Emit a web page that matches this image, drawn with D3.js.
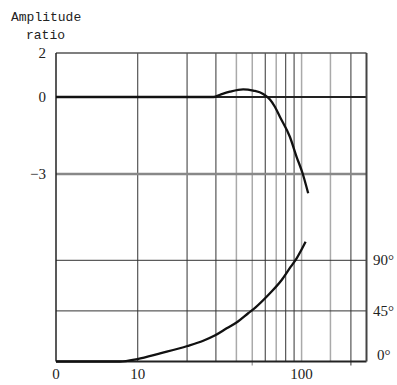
<!DOCTYPE html>
<html>
<head>
<meta charset="utf-8">
<script src="https://cdn.jsdelivr.net/npm/d3@7"></script>
<style>
  body { margin: 0; background: #fff; }
  text { fill: #222; }
</style>
</head>
<body>
<script>
// frequency grid (log axis)
var xMin = 3.17, xMax = 249;
var gridFreqs = [10, 20, 30, 40, 50, 60, 70, 80, 90, 100, 150, 200];
var xTickValues = [xMin, 10, 100];
var xTickLabels = ["0", "10", "100"];

// amplitude ratio axis (left)
var ampTicks = [2, 0, -3];
var ampTickLabels = ["2", "0", "\u22123"];

// phase axis (right)
var phaseTicks = [0, 45, 90];
var phaseTickLabels = ["0\u00b0", "45\u00b0", "90\u00b0"];

// amplitude curve
var ampFreq = [xMin, 29, 32, 36.5, 44, 50.7, 58.3, 64.1, 68.7, 73.7, 84.8, 93.2, 101.4, 109.7];
var ampVal  = [0,    0,  0.11, 0.24, 0.35, 0.29, 0.14, -0.1, -0.38, -0.77, -1.55, -2.33, -2.97, -3.75];

// phase curve
var phaseFreq = [xMin, 7.8, 9.94, 13.7, 20.1, 25.1, 29.7, 34.9, 40.7, 47.2, 52.4, 64.1, 75.6, 85.9, 93.3, 105.8];
var phaseVal  = [0,    0,   2.2,  7.3,  13.8, 18.5, 23.3, 29.5, 35.4, 42.9, 48.2, 60.7, 72.5, 84.3, 91.8, 106.5];

drawChart();

function drawChart() {
    var width = 397, height = 385;
    var left = 56, right = 366.5, plotTop = 53, bottom = 361.5;

    var x = d3.scaleLog().domain([xMin, xMax]).range([left, right]);
    var yAmp = d3.scaleLinear().domain([2, 0, -3]).range([plotTop, 97, 174]);
    var yPh = d3.scaleLinear().domain([0, 90]).range([bottom, 260.3]);

    var svg = d3.select("body").append("svg")
        .attr("width", width)
        .attr("height", height);

    // which vertical lines look dark in the original
    var darkSet = [10, 20, 30, 60, 80, 90, 200];

    svg.append("g")
        .selectAll("line")
        .data(gridFreqs)
        .enter().append("line")
        .attr("x1", function(d) { return x(d); })
        .attr("x2", function(d) { return x(d); })
        .attr("y1", plotTop)
        .attr("y2", function(d) { return (d == 50 || d == 200) ? bottom + 4 : bottom; })
        .style("stroke", function(d) { return darkSet.includes(d) ? "#333" : "#aaa"; })
        .style("stroke-width", function(d) { return darkSet.includes(d) ? 1 : 1.5; });

    // horizontal lines
    svg.append("line")
        .attr("x1", left).attr("x2", right)
        .attr("y1", yAmp(0)).attr("y2", yAmp(0))
        .style("stroke", "#222").style("stroke-width", 2);
    svg.append("line")
        .attr("x1", left).attr("x2", right)
        .attr("y1", yAmp(-3)).attr("y2", yAmp(-3))
        .style("stroke", "#888").style("stroke-width", 2.5);
    svg.append("g")
        .selectAll("line")
        .data(phaseTicks.filter(function(d) { return d > 0; }))
        .enter().append("line")
        .attr("x1", left).attr("x2", right)
        .attr("y1", function(d) { return yPh(d); })
        .attr("y2", function(d) { return yPh(d); })
        .style("stroke", "#333").style("stroke-width", 1);

    // frame
    svg.append("line").attr("x1", left).attr("x2", right).attr("y1", plotTop).attr("y2", plotTop)
        .style("stroke", "#555").style("stroke-width", 1.5);
    svg.append("line").attr("x1", left).attr("x2", right).attr("y1", bottom).attr("y2", bottom)
        .style("stroke", "#222").style("stroke-width", 2);
    svg.append("line").attr("x1", left).attr("x2", left).attr("y1", plotTop).attr("y2", bottom)
        .style("stroke", "#222").style("stroke-width", 1.5);
    svg.append("line").attr("x1", right).attr("x2", right).attr("y1", plotTop).attr("y2", bottom)
        .style("stroke", "#444").style("stroke-width", 2);

    // curves
    var ampLine = d3.line()
        .x(function(d, i) { return x(ampFreq[i]); })
        .y(function(d) { return yAmp(d); })
        .curve(d3.curveMonotoneX);
    svg.append("path")
        .attr("d", ampLine(ampVal))
        .style("fill", "none").style("stroke", "#111").style("stroke-width", 2.3);

    var phLine = d3.line()
        .x(function(d, i) { return x(phaseFreq[i]); })
        .y(function(d) { return yPh(d); })
        .curve(d3.curveMonotoneX);
    svg.append("path")
        .attr("d", phLine(phaseVal))
        .style("fill", "none").style("stroke", "#111").style("stroke-width", 2.3);

    // labels
    var serif = "'Liberation Serif', 'DejaVu Serif', serif";
    var mono = "'Liberation Mono', 'DejaVu Sans Mono', monospace";

    svg.append("g")
        .selectAll("text")
        .data(xTickValues)
        .enter().append("text")
        .attr("x", function(d) { return x(d); })
        .attr("y", 379)
        .attr("text-anchor", "middle")
        .style("font-family", serif)
        .style("font-size", "15px")
        .text(function(d, i) { return xTickLabels[i]; });

    svg.append("g")
        .selectAll("text")
        .data(ampTicks)
        .enter().append("text")
        .attr("x", 46)
        .attr("y", function(d) { return yAmp(d) + 5; })
        .attr("text-anchor", "end")
        .style("font-family", serif)
        .style("font-size", "15px")
        .text(function(d, i) { return ampTickLabels[i]; });

    svg.append("g")
        .selectAll("text")
        .data(phaseTicks)
        .enter().append("text")
        .attr("x", function(d) { return d == 0 ? 377 : 373; })
        .attr("y", function(d) { return d == 0 ? yPh(d) - 2 : yPh(d) + 5; })
        .style("font-family", serif)
        .style("font-size", "15px")
        .text(function(d, i) { return phaseTickLabels[i]; });

    svg.append("text")
        .attr("x", 11).attr("y", 21)
        .style("font-family", mono).style("font-size", "13px")
        .text("Amplitude");
    svg.append("text")
        .attr("x", 26).attr("y", 39)
        .style("font-family", mono).style("font-size", "13px")
        .text("ratio");
}
</script>
</body>
</html>
